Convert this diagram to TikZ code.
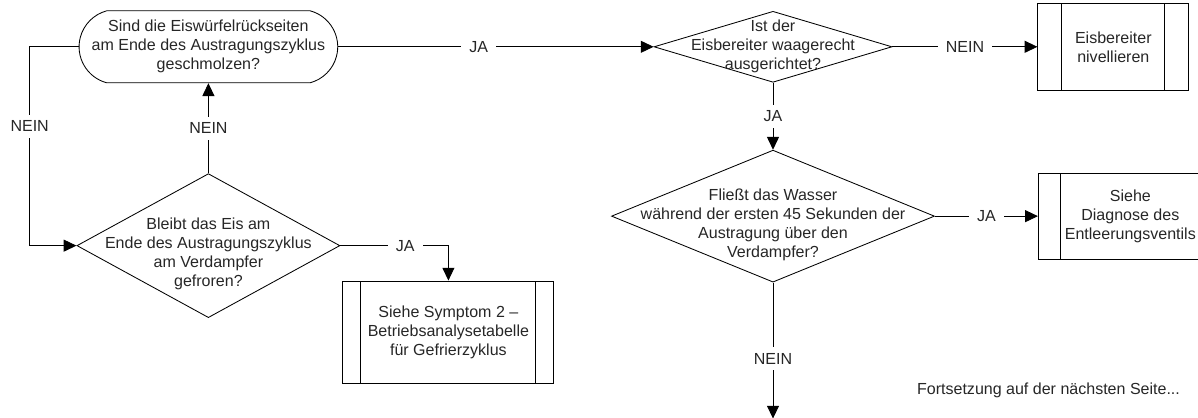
\documentclass[tikz,border=0pt]{standalone}
\usepackage{fontspec}
\setmainfont{Liberation Sans}
\usetikzlibrary{positioning,shapes.geometric,shapes.misc,arrows.meta,calc}

\begin{document}
\begin{tikzpicture}
    [every node/.style={font=\fontsize{11.4}{13.5}\selectfont, text=black!85},
      term/.style={rounded rectangle, rounded rectangle arc length=150, draw, align=center,
        minimum width=6.7cm, minimum height=1.8cm},
      decide/.style={diamond, draw, inner sep=0pt},
      qtext/.style={align=center},
      proc/.style={rectangle, draw, align=center, path picture={
          \draw ([xshift=#1]path picture bounding box.north west) -- ([xshift=#1]path picture bounding box.south west);
          \draw ([xshift=-#1]path picture bounding box.north east) -- ([xshift=-#1]path picture bounding box.south east);}},
      lbl/.style={fill=white, inner xsep=0.2cm, inner ysep=0.15cm},
      flow/.style={-{Triangle[length=0.32cm,width=0.3cm]}},
      line width=0.6pt]

  \useasboundingbox (0,0) rectangle (29.95,-10.45);
  \clip (0,0) rectangle (29.95,-10.45);

  % left column
  \node [term] (start) at (5.21,-1.17) {
    Sind die Eiswürfelrückseiten\\am Ende des Austragungszyklus\\geschmolzen?};

  \node [decide, minimum width=6.575cm, minimum height=3.6cm, below=2.25cm of start,
    label={[qtext,yshift=-0.21cm]center:{Bleibt das Eis am\\Ende des Austragungszyklus\\am Verdampfer\\gefroren?}}] (q1) {};

  \node [proc=0.45cm, minimum width=5.275cm, minimum height=2.55cm] (sympt) at (11.21,-8.3) {
    Siehe Symptom 2 –\\Betriebsanalysetabelle\\für Gefrierzyklus};

  % right column
  \node [decide, minimum width=5.95cm, minimum height=1.775cm,
    label={[qtext]center:{Ist der\\Eisbereiter waagerecht\\ausgerichtet?}}] (q2) at (19.325,-1.17) {};

  \node [proc=0.6cm, minimum width=3.775cm, minimum height=2.175cm, right=3.625cm of q2] (level) {
    Eisbereiter\\nivellieren};

  \node [decide, minimum width=8.075cm, minimum height=3.3cm, below=1.675cm of q2,
    label={[qtext,yshift=-0.21cm]center:{Fließt das Wasser\\während der ersten 45 Sekunden der\\Austragung über den\\Verdampfer?}}] (q3) {};

  \node [proc=0.55cm, minimum width=4.6cm, minimum height=2.15cm, right=2.575cm of q3] (valve) {
    Siehe\\Diagnose des\\Entleerungsventils};

  \coordinate [below=3.4cm of q3] (next);

  \node [anchor=west] (note) at (22.8,-9.75) {Fortsetzung auf der nächsten Seite...};

  % connectors
  \draw [flow] (start.west) -- ++(-1.225,0) |- node [lbl,pos=0.2] {NEIN} (q1.west);
  \draw [flow] (q1.north) -- node [lbl] {NEIN} (start.south);
  \draw [flow] (q1.east) -| node [lbl,pos=0.3] {JA} (sympt.north);
  \draw [flow] (start.east) -- node [lbl,pos=0.446] {JA} (q2.west);
  \draw [flow] (q2.east) -- node [lbl] {NEIN} (level.west);
  \draw [flow] (q2.south) -- node [lbl] {JA} (q3.north);
  \draw [flow] (q3.east) -- node [lbl] {JA} (valve.west);
  \draw [flow] (q3.south) -- node [lbl,pos=0.56] {NEIN} (next);
\end{tikzpicture}
\end{document}
